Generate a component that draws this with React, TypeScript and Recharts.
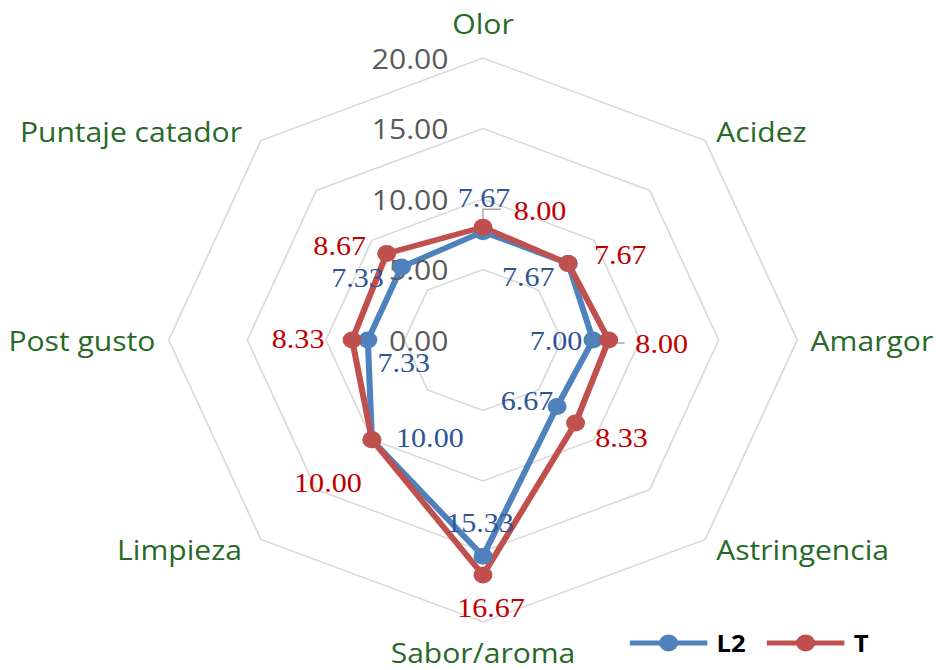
import { RadarChart, Radar, PolarGrid, PolarAngleAxis, PolarRadiusAxis, Legend } from 'recharts';

const categories = ['Olor', 'Acidez', 'Amargor', 'Astringencia', 'Sabor/aroma', 'Limpieza', 'Post gusto', 'Puntaje catador'];
const l2Values = [7.67, 7.67, 7.0, 6.67, 15.33, 10.0, 7.33, 7.33];
const tValues = [8.0, 7.67, 8.0, 8.33, 16.67, 10.0, 8.33, 8.67];
const radiusTicks = [0, 5, 10, 15, 20];

// label offsets from the point, in screen px (dx, dy)
const l2LabelOffsets = [[1, -34], [-40, 14], [-37, 1], [-30, -5], [-3, -33], [58, -2], [36, 23], [-44, 11]];
const tLabelOffsets = [[57, -16], [52, -8], [53, 4], [46, 15], [8, 33], [-44, 43], [-54, -1], [-47, -8]];
const tLeaders: Record<number, string> = { 0: 'M0,-8 L0,-18 L18,-18', 2: 'M0,3 L16,3' };

// the original picture is stretched sideways, so the whole chart is too
const K = 936 / 840;
const CX = 483 / K;
const CY = 340;
const R = 282;

const data = categories.map((c, i) => ({ name: c, L2: l2Values[i], T: tValues[i] }));

const BLUE = '#4F81BD';
const RED = '#C0504D';

function makeDot(color: string, textColor: string, offsets: number[][], leaders: Record<number, string>) {
  return (p: any) => {
    const [dx, dy] = offsets[p.index] || [0, 0];
    const lead = leaders[p.index];
    return (
      <g key={`d-${color}-${p.index}`}>
        {lead && (
          <path d={lead} transform={`translate(${p.cx},${p.cy}) scale(${1 / K},1)`} stroke="#A6A6A6" strokeWidth={1.5} fill="none" />
        )}
        <circle cx={p.cx} cy={p.cy} r={8.5} fill={color} />
        <text
          x={p.cx + dx / K}
          y={p.cy + dy}
          textAnchor="middle"
          dominantBaseline="central"
          fontFamily="'Liberation Serif', serif"
          fontSize={27}
          fill={textColor}
        >
          {Number(p.value).toFixed(2)}
        </text>
      </g>
    );
  };
}

const AngleTick = (p: any) => {
  const vx = p.x - p.cx;
  const vy = p.y - p.cy;
  const len = Math.hypot(vx, vy) || 1;
  const ux = vx / len;
  const uy = vy / len;
  let x = p.cx;
  let y = p.cy;
  let anchor: 'start' | 'middle' | 'end' = 'middle';
  if (Math.abs(uy) > 0.9) {
    y = p.cy + uy * (uy < 0 ? 317 : 312);
  } else if (Math.abs(ux) > 0.9) {
    x = p.cx + ux * 294;
    y = p.cy;
    anchor = ux > 0 ? 'start' : 'end';
  } else {
    x = p.cx + ux * 296 + (ux < 0 ? -7 : 0);
    y = p.cy + uy * 296;
    anchor = ux > 0 ? 'start' : 'end';
  }
  return (
    <text x={x} y={y} textAnchor={anchor} dominantBaseline="central" fontFamily="'Open Sans', sans-serif" fontSize={27} fill="#276A27">
      {p.payload.value}
    </text>
  );
};

const RadiusTick = (p: any) => (
  <text x={p.x - 31} y={p.y} textAnchor="end" dominantBaseline="central" fontFamily="'Open Sans', sans-serif" fontSize={27} fill="#595959">
    {Number(p.payload.value).toFixed(2)}
  </text>
);

const LegendContent = () => {
  const items = [
    { name: 'L2', color: BLUE },
    { name: 'T', color: RED },
  ];
  return (
    <div style={{ display: 'flex', alignItems: 'center' }}>
      {items.map((it) => (
        <div key={it.name} style={{ display: 'flex', alignItems: 'center', marginRight: 19 }}>
          <svg width={70} height={20}>
            <line x1={0} y1={10} x2={70} y2={10} stroke={it.color} strokeWidth={5} />
            <circle cx={35} cy={10} r={8.5} fill={it.color} />
          </svg>
          <span style={{ marginLeft: 8, fontFamily: "'Open Sans', sans-serif", fontWeight: 700, fontSize: 23, color: '#000' }}>{it.name}</span>
        </div>
      ))}
    </div>
  );
};

export default function App() {
  return (
    <div
      style={{
        position: 'absolute',
        left: 0,
        top: 0,
        width: 840,
        height: 670,
        background: '#fff',
        transform: `scaleX(${K})`,
        transformOrigin: '0 0',
      }}
    >
      <RadarChart width={840} height={670} data={data} cx={CX} cy={CY} outerRadius={R} margin={{ top: 0, right: 0, bottom: 0, left: 0 }}>
        <PolarGrid gridType="polygon" radialLines={false} stroke="#D9D9D9" strokeWidth={1.5} />
        <PolarAngleAxis dataKey="name" tick={AngleTick} axisLine={false} tickLine={false} />
        <PolarRadiusAxis angle={90} domain={[0, 20]} ticks={radiusTicks} tick={RadiusTick} axisLine={false} tickLine={false} />
        <Radar
          name="L2"
          dataKey="L2"
          stroke={BLUE}
          strokeWidth={5.5}
          fill="none"
          fillOpacity={0}
          dot={makeDot(BLUE, '#2F5597', l2LabelOffsets, {})}
          isAnimationActive={false}
        />
        <Radar
          name="T"
          dataKey="T"
          stroke={RED}
          strokeWidth={5.5}
          fill="none"
          fillOpacity={0}
          dot={makeDot(RED, '#C00000', tLabelOffsets, tLeaders)}
          isAnimationActive={false}
        />
        <Legend content={LegendContent} wrapperStyle={{ position: 'absolute', left: 565, top: 627, width: 'auto', bottom: 'auto' }} />
      </RadarChart>
    </div>
  );
}
